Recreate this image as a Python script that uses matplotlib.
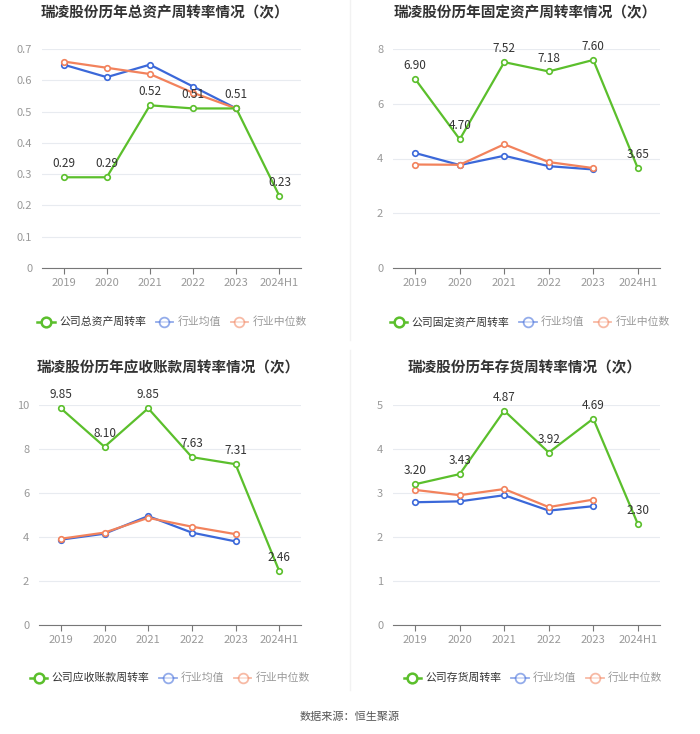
import matplotlib
matplotlib.use("Agg")
import matplotlib.pyplot as plt
from matplotlib.lines import Line2D

plt.rcParams['font.family'] = ['Noto Sans CJK SC', 'DejaVu Sans']

years = ["2019", "2020", "2021", "2022", "2023", "2024H1"]

# 总资产周转率
total_co = [0.29, 0.29, 0.52, 0.51, 0.51, 0.23]
total_avg = [0.65, 0.61, 0.65, 0.58, 0.51]
total_med = [0.66, 0.64, 0.62, 0.56, 0.51]

# 固定资产周转率
fixed_co = [6.90, 4.70, 7.52, 7.18, 7.60, 3.65]
fixed_avg = [4.20, 3.76, 4.10, 3.72, 3.60]
fixed_med = [3.78, 3.77, 4.52, 3.87, 3.65]

# 应收账款周转率
recv_co = [9.85, 8.10, 9.85, 7.63, 7.31, 2.46]
recv_avg = [3.88, 4.15, 4.95, 4.20, 3.80]
recv_med = [3.92, 4.20, 4.87, 4.47, 4.13]

# 存货周转率
inv_co = [3.20, 3.43, 4.87, 3.92, 4.69, 2.30]
inv_avg = [2.79, 2.81, 2.95, 2.60, 2.70]
inv_med = [3.07, 2.95, 3.09, 2.68, 2.85]

GREEN = "#5bbf2c"
BLUE = "#3b68d9"
ORANGE = "#f2825c"

W, H = 700, 734
fig = plt.figure(figsize=(W / 100, H / 100), dpi=100)


def px_axes(x0, y0, x1, y1):
    # pixel box (left, top, right, bottom) -> figure coords
    return fig.add_axes([x0 / W, 1 - y1 / H, (x1 - x0) / W, (y1 - y0) / H])


def panel(box, title, title_xy, co, avg, med, ymax, ystep, co_name, legend_xy):
    ax = px_axes(*box)
    x = list(range(len(years)))
    ax.plot(x[:5], avg, color=BLUE, lw=1.6, marker='o', ms=4, mfc='white', mew=1.2, zorder=3)
    ax.plot(x[:5], med, color=ORANGE, lw=1.6, marker='o', ms=4, mfc='white', mew=1.2, zorder=3)
    ax.plot(x, co, color=GREEN, lw=1.6, marker='o', ms=4, mfc='white', mew=1.2, zorder=4)
    for xi, v in zip(x, co):
        ax.annotate("{:.2f}".format(v), (xi, v), xytext=(0, 5), textcoords='offset points',
                    ha='center', va='bottom', fontsize=8.5, color='#333333', zorder=5)
    ax.set_xlim(-0.5, 5.5)
    ax.set_ylim(0, ymax)
    ticks = [round(i * ystep, 2) for i in range(int(round(ymax / ystep)) + 1)]
    ax.set_yticks(ticks)
    ax.set_yticklabels(["{:g}".format(t) for t in ticks])
    ax.set_xticks(x)
    ax.set_xticklabels(years)
    ax.grid(axis='y', color='#e8ebf0', lw=0.8)
    ax.set_axisbelow(True)
    for s in ['top', 'right', 'left']:
        ax.spines[s].set_visible(False)
    ax.spines['bottom'].set_color('#777777')
    ax.tick_params(axis='y', length=0, labelsize=8, labelcolor='#999999', pad=7)
    ax.tick_params(axis='x', length=4, color='#777777', labelsize=8, labelcolor='#999999')
    fig.text(title_xy[0] / W, 1 - title_xy[1] / H, title, ha='center', va='center',
             fontsize=10.5, fontweight='bold', color='#333333')
    handles = [
        Line2D([], [], color=GREEN, lw=1.8, marker='o', ms=7, mfc='white', mew=1.8),
        Line2D([], [], color=BLUE, lw=1.3, marker='o', ms=7, mfc='white', mew=1.3, alpha=0.55),
        Line2D([], [], color=ORANGE, lw=1.3, marker='o', ms=7, mfc='white', mew=1.3, alpha=0.55),
    ]
    leg = fig.legend(handles, [co_name, "行业均值", "行业中位数"], loc='center',
                     bbox_to_anchor=(legend_xy[0] / W, 1 - legend_xy[1] / H), ncol=3,
                     frameon=False, fontsize=7.8, handlelength=1.6, columnspacing=0.9,
                     handletextpad=0.4)
    cols = ['#333333', '#999999', '#999999']
    for t, c in zip(leg.get_texts(), cols):
        t.set_color(c)
    return ax


panel((42, 49, 301, 268), "瑞凌股份历年总资产周转率情况（次）", (165, 12),
      total_co, total_avg, total_med, 0.7, 0.1, "公司总资产周转率", (172, 322))
panel((393, 49, 660, 268), "瑞凌股份历年固定资产周转率情况（次）", (525, 12),
      fixed_co, fixed_avg, fixed_med, 8, 2, "公司固定资产周转率", (530, 322))
panel((39, 405, 301, 625), "瑞凌股份历年应收账款周转率情况（次）", (168, 367),
      recv_co, recv_avg, recv_med, 10, 2, "公司应收账款周转率", (170, 678))
panel((393, 405, 660, 625), "瑞凌股份历年存货周转率情况（次）", (525, 367),
      inv_co, inv_avg, inv_med, 5, 1, "公司存货周转率", (533, 678))

# faint separators between panels
fig.add_artist(Line2D([350 / W, 350 / W], [1 - 0 / H, 1 - 340 / H], color='#f2f2f2', lw=1))
fig.add_artist(Line2D([350 / W, 350 / W], [1 - 350 / H, 1 - 690 / H], color='#f2f2f2', lw=1))

fig.text(0.5, 1 - 717 / H, "数据来源：恒生聚源", ha='center', va='center', fontsize=8, color='#555555')

fig.savefig("out.png", dpi=100, facecolor='white')
